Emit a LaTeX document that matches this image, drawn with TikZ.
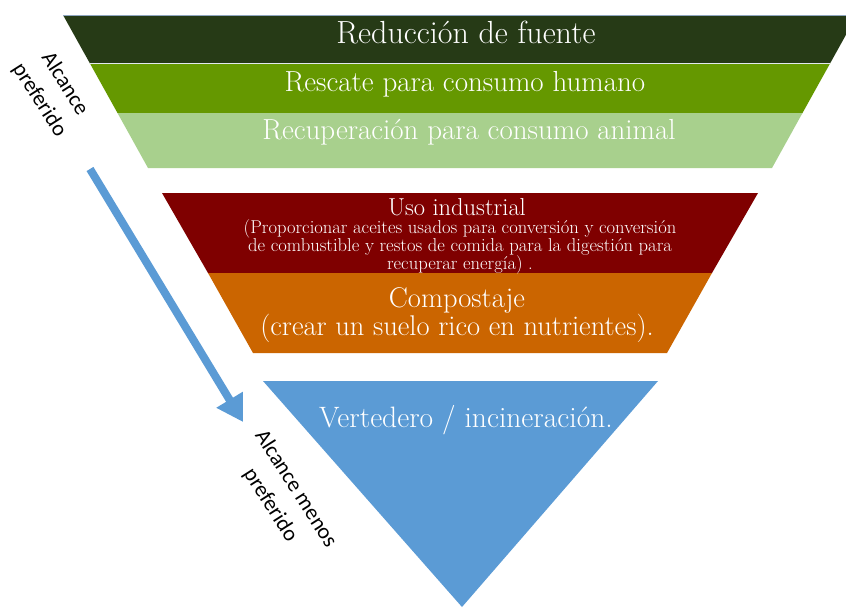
\documentclass[tikz,border=0pt]{standalone}
\usepackage{fontspec}
\newfontfamily\labelsans{Carlito}
\usetikzlibrary{arrows.meta}

\definecolor{bandA}{HTML}{263A16}
\definecolor{bandB}{HTML}{659800}
\definecolor{bandC}{HTML}{A8D08D}
\definecolor{bandD}{HTML}{7F0000}
\definecolor{bandE}{HTML}{CB6500}
\definecolor{bandF}{HTML}{5B9BD5}
\definecolor{rim}{HTML}{8FA6C0}

\begin{document}
\begin{tikzpicture}[x=1pt,y=1pt,
  lvl/.style={text=white, align=center, inner sep=0pt, anchor=base},
  lvlblock/.style={text=white, align=center, inner sep=0pt},
  sidelabel/.style={font=\labelsans\fontsize{22}{30}\selectfont, align=center,
    rotate=-57.5, inner sep=0pt},
  flow/.style={draw=bandF, line width=8pt, -{Triangle[length=26pt,width=29pt]}},
]
\clip (0,0) rectangle (846,-608);
\fill[white] (0,0) rectangle (846,-608);

% upper funnel: three stacked bands
\fill[bandA] (63,-15) -- (857,-15) -- (830.3,-63) -- (89.7,-63) -- cycle;
\fill[bandB] (89.7,-63) -- (830.3,-63) -- (802.5,-113) -- (117.5,-113) -- cycle;
\fill[bandC] (117.5,-113) -- (802.5,-113) -- (772,-168) -- (148,-168) -- cycle;
\draw[rim, line width=1pt] (63,-15) -- (857,-15);
\draw[white!75!rim, line width=1pt] (89.7,-63) -- (830.3,-63);

% middle funnel: two bands
\fill[bandD] (162,-193) -- (758,-193) -- (712,-273) -- (208,-273) -- cycle;
\fill[bandE] (208,-273) -- (712,-273) -- (667,-353) -- (253,-353) -- cycle;

% bottom tip
\fill[bandF] (263,-381) -- (658,-381) -- (462,-607) -- cycle;

% level captions
\node[lvl, font=\fontsize{32}{34}\selectfont] (reduccion) at (466,-43) {Reducción de fuente};
\node[lvl, font=\fontsize{29}{32}\selectfont] (rescate) at (465,-91) {Rescate para consumo humano};
\node[lvl, font=\fontsize{29}{32}\selectfont] (recuperacion) at (469,-139) {Recuperación para consumo animal};
\node[lvl, font=\fontsize{24.5}{27}\selectfont] (industrial) at (457,-215) {Uso industrial};
\node[lvlblock, font=\fontsize{18.6}{18}\selectfont] (industrialnote) at (460,-246.5)
  {(Proporcionar aceites usados para conversión y conversión\\
   de combustible y restos de comida para la digestión para\\
   recuperar energía) .};
\node[lvlblock, font=\fontsize{28.5}{28}\selectfont] (compostaje) at (457,-315)
  {Compostaje\\(crear un suelo rico en nutrientes).};
\node[lvl, font=\fontsize{29.5}{32}\selectfont] (vertedero) at (466,-427) {Vertedero / incineración.};

% preference direction
\coordinate (arrtail) at (90,-169);
\coordinate (arrtip) at (243,-422);
\draw[flow] (arrtail) -- (arrtip);

\node[sidelabel] (preferido) at (52,-92) {Alcance\\preferido};
\node[sidelabel] (menospreferido) at (283,-497) {Alcance menos\\preferido};
\end{tikzpicture}
\end{document}
